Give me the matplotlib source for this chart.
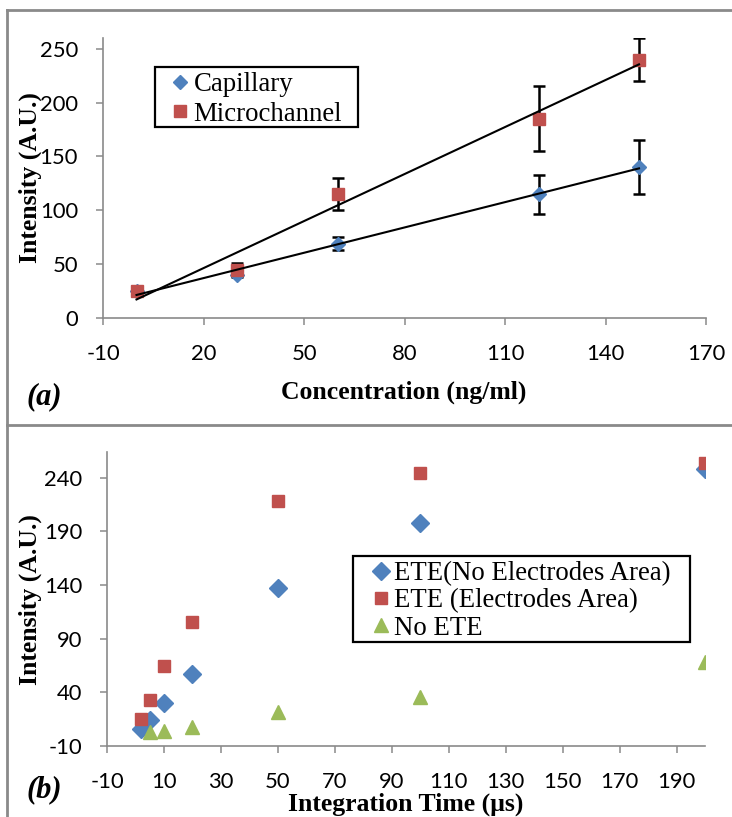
import numpy as np
import matplotlib
matplotlib.use("Agg")
import matplotlib.pyplot as plt
from matplotlib.lines import Line2D
from matplotlib.patches import Rectangle

plt.rcParams["axes.unicode_minus"] = False

# ---------------- data ----------------
# panel (a)
conc = [0, 30, 60, 120, 150]
capillary = [25, 40, 69, 115, 140]
capillary_err = [1.5, 2, 6, 18, 25]
microchannel = [25, 45, 115, 185, 240]
microchannel_err = [1.5, 6, 15, 30, 20]

# panel (b)
time_blue = [2, 5, 10, 20, 50, 100, 200]
ete_no_elec = [6, 14, 30, 57, 137, 198, 248]
time_red = [2, 5, 10, 20, 50, 100, 200]
ete_elec = [15, 33, 65, 106, 218, 244, 254]
time_green = [5, 10, 20, 50, 100, 200]
no_ete = [3, 4, 8, 22, 36, 68]

a_xticks = [-10, 20, 50, 80, 110, 140, 170]
a_yticks = [0, 50, 100, 150, 200, 250]
b_xticks = [-10, 10, 30, 50, 70, 90, 110, 130, 150, 170, 190]
b_yticks = [-10, 40, 90, 140, 190, 240]

BLUE = "#4F81BD"
RED = "#C0504D"
GREEN = "#9BBB59"
GRAY = "#8A8A8A"
SERIF = ["Liberation Serif", "DejaVu Serif"]
SANS = ["Lato", "DejaVu Sans"]

W, H = 732, 817
fig = plt.figure(figsize=(W / 100, H / 100), dpi=100)


def ax_rect(l, r, t, b):
    return [l / W, 1 - b / H, (r - l) / W, (b - t) / H]


def style_axes(ax):
    for s in ("top", "right"):
        ax.spines[s].set_visible(False)
    for s in ("left", "bottom"):
        ax.spines[s].set_color(GRAY)
        ax.spines[s].set_linewidth(1.2)
    ax.tick_params(axis="both", direction="out", length=5, width=1.1,
                   color=GRAY, labelsize=15.8)
    ax.tick_params(axis="x", pad=14)
    ax.tick_params(axis="y", pad=13)
    for lab in ax.get_xticklabels() + ax.get_yticklabels():
        lab.set_family(SANS)


def fig_box(l, r, t, b):
    fig.add_artist(Rectangle((l / W, 1 - b / H), (r - l) / W, (b - t) / H,
                             transform=fig.transFigure, fill=False,
                             edgecolor="black", lw=1.6, zorder=10))


# ---------------- panel (a) ----------------
ax1 = fig.add_axes(ax_rect(103, 706, 38, 318))
ax1.set_xlim(-10, 170)
ax1.set_ylim(0, 260)
ax1.set_xticks(a_xticks)
ax1.set_yticks(a_yticks)

ax1.errorbar(conc, capillary, yerr=capillary_err, fmt="none", ecolor="black",
             elinewidth=1.8, capsize=4, capthick=1.8, zorder=2)
ax1.errorbar(conc, microchannel, yerr=microchannel_err, fmt="none", ecolor="black",
             elinewidth=1.8, capsize=4, capthick=1.8, zorder=2)
ax1.plot(conc, capillary, linestyle="none", marker="D", ms=7, color=BLUE,
         markeredgecolor=BLUE, zorder=3, label="Capillary")
ax1.plot(conc, microchannel, linestyle="none", marker="s", ms=8, color=RED,
         markeredgecolor=RED, zorder=3, label="Microchannel")

xs = np.array([min(conc), max(conc)])
for ys in (capillary, microchannel):
    k, b = np.polyfit(conc, ys, 1)
    ax1.plot(xs, k * xs + b, color="black", lw=1.5, zorder=4)

style_axes(ax1)
fs1 = 19.3
hl_px = 0.6 * fs1 * 100 / 72
leg1 = ax1.legend(loc="upper left",
                  bbox_to_anchor=((180 - hl_px / 2 - 103) / 603, (318 - 72) / 280),
                  borderaxespad=0, frameon=False, numpoints=1,
                  prop={"family": SERIF, "size": fs1}, handlelength=0.6,
                  handletextpad=0.2, labelspacing=0.17, borderpad=0)
fig_box(155, 358, 67, 127)

# ---------------- panel (b) ----------------
ax2 = fig.add_axes(ax_rect(107, 705, 452, 746))
ax2.set_xlim(-10, 200)
ax2.set_ylim(-10, 264)
ax2.set_xticks(b_xticks)
ax2.set_yticks(b_yticks)

ax2.plot(time_blue, ete_no_elec, linestyle="none", marker="D", ms=9.5, color=BLUE,
         markeredgecolor=BLUE, zorder=3, label="ETE(No Electrodes Area)")
ax2.plot(time_red, ete_elec, linestyle="none", marker="s", ms=8.4, color=RED,
         markeredgecolor=RED, zorder=3, label="ETE (Electrodes Area)")
ax2.plot(time_green, no_ete, linestyle="none", marker="^", ms=10.5, color=GREEN,
         markeredgecolor=GREEN, zorder=3, label="No ETE")

style_axes(ax2)
fs2 = 19.3
hl_px2 = 0.6 * fs2 * 100 / 72
leg2 = ax2.legend(loc="upper left",
                  bbox_to_anchor=((381 - hl_px2 / 2 - 107) / 598, (746 - 561) / 294),
                  borderaxespad=0, frameon=False, numpoints=1,
                  prop={"family": SERIF, "size": fs2}, handlelength=0.6,
                  handletextpad=0.2, labelspacing=0.09, borderpad=0)
fig_box(353, 690, 556, 642)

# ---------------- texts ----------------
def ftext(x, y, s, **kw):
    fig.text(x / W, 1 - y / H, s, **kw)


ftext(30, 178, "Intensity (A.U.)", rotation=90, ha="center", va="center",
      family=SERIF, weight="bold", size=18.5)
ftext(30, 600, "Intensity (A.U.)", rotation=90, ha="center", va="center",
      family=SERIF, weight="bold", size=18.5)
ftext(404, 399, "Concentration (ng/ml)", ha="center", va="baseline",
      family=SERIF, weight="bold", size=18.5)
ftext(406, 811, "Integration Time (μs)", ha="center", va="baseline",
      family=SERIF, weight="bold", size=18.5)
ftext(27, 404, "(a)", ha="left", va="baseline", family=SERIF, weight="bold",
      style="italic", size=22)
ftext(27, 797, "(b)", ha="left", va="baseline", family=SERIF, weight="bold",
      style="italic", size=22)

# ---------------- frame lines ----------------
for (x0, y0, x1, y1) in [(7.5, 10, 7.5, 817), (7.5, 10, 732, 10), (7.5, 425, 732, 425)]:
    fig.add_artist(Line2D([x0 / W, x1 / W], [1 - y0 / H, 1 - y1 / H],
                          transform=fig.transFigure, color=GRAY, lw=2))

fig.savefig("out.png", dpi=100)
